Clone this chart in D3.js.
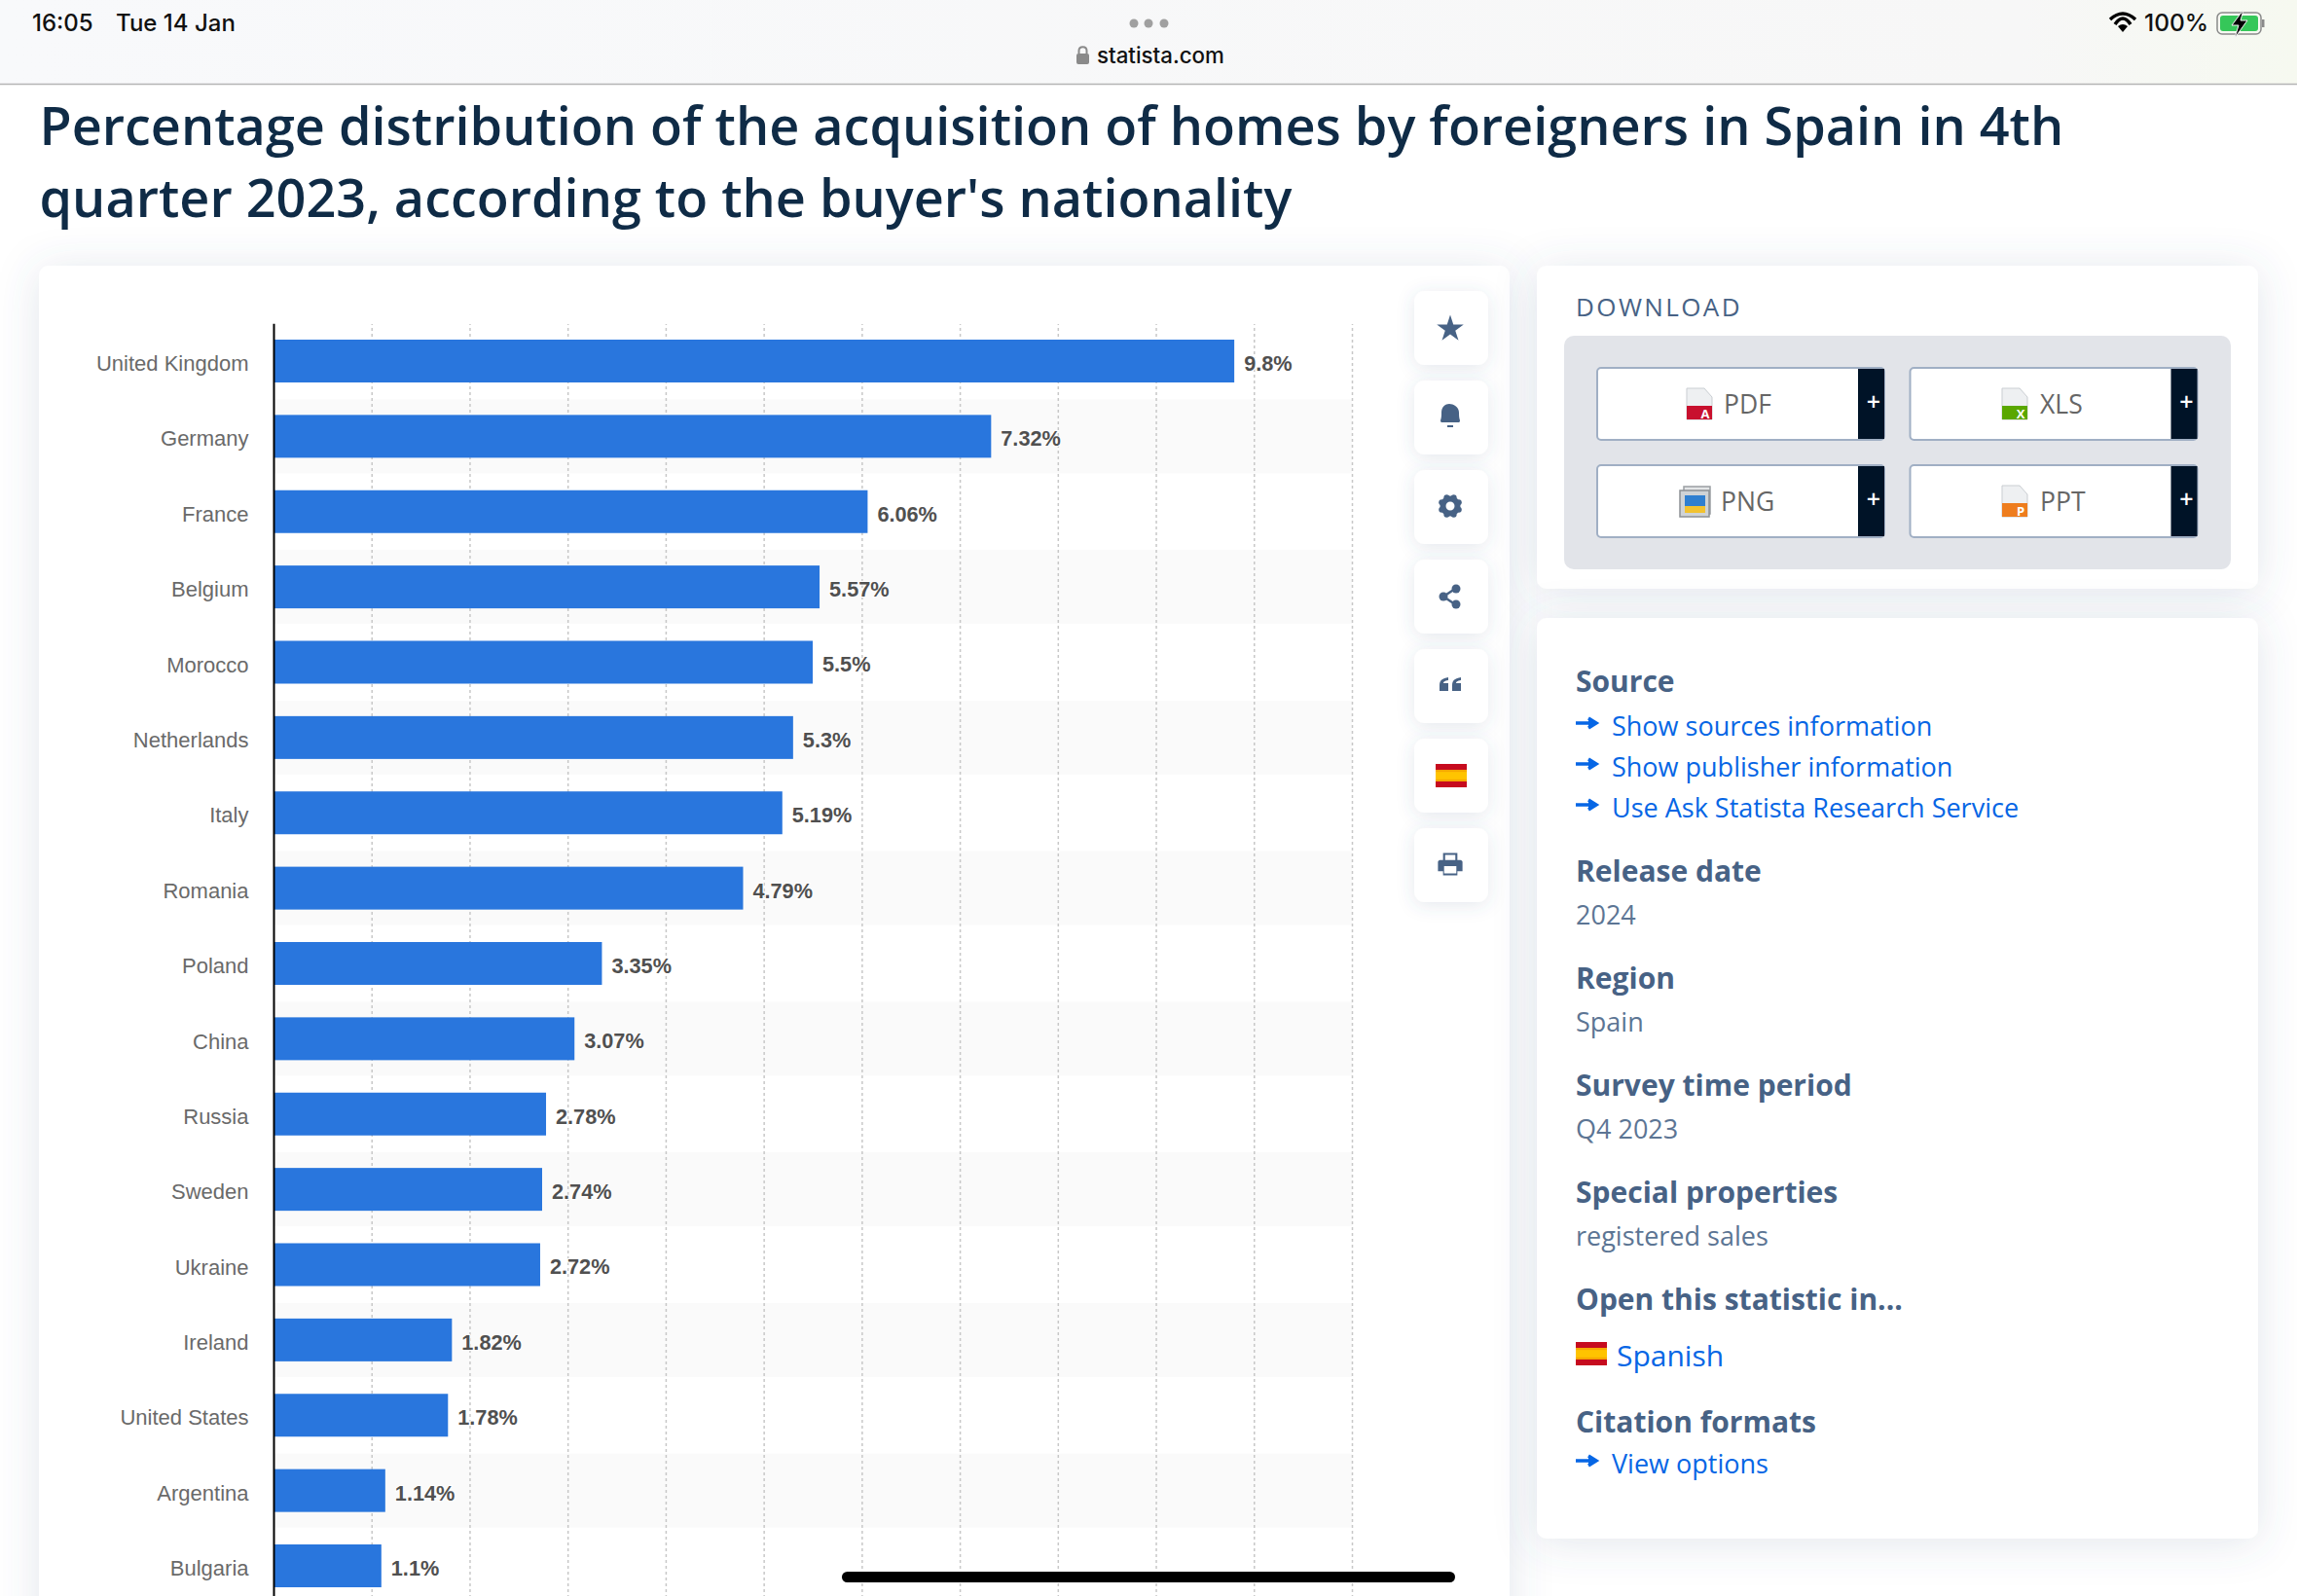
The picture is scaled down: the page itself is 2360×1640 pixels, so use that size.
<!DOCTYPE html>
<html>
<head>
<meta charset="utf-8">
<script src="https://cdn.jsdelivr.net/npm/d3@7"></script>
<style>
  html, body { margin: 0; padding: 0; background: #fff; overflow: hidden; }
  svg { display: block; }
  text { font-family: "Open Sans", sans-serif; }
</style>
</head>
<body>
<div id="page"></div>
<script>
const countries = ["United Kingdom", "Germany", "France", "Belgium", "Morocco", "Netherlands", "Italy", "Romania", "Poland", "China", "Russia", "Sweden", "Ukraine", "Ireland", "United States", "Argentina", "Bulgaria"];
const shares = [9.8, 7.32, 6.06, 5.57, 5.5, 5.3, 5.19, 4.79, 3.35, 3.07, 2.78, 2.74, 2.72, 1.82, 1.78, 1.14, 1.1];
const titleLines = ["Percentage distribution of the acquisition of homes by foreigners in Spain in 4th", "quarter 2023, according to the buyer's nationality"];
const downloads = ["PDF", "XLS", "PNG", "PPT"];
const downloadColors = ["#c8102e", "#5aa700", "#2f7fd0", "#ee7d1e"];
const downloadMarks = ["A", "X", "", "P"];
const sourceLinks = ["Show sources information", "Show publisher information", "Use Ask Statista Research Service"];
const metaHeads = ["Release date", "Region", "Survey time period", "Special properties"];
const metaValues = ["2024", "Spain", "Q4 2023", "registered sales"];

const W = 2360, H = 1640;
const svg = d3.select("#page").append("svg").attr("width", W).attr("height", H);
const blue = "#2976dd", slate = "#476285", linkBlue = "#0666e5";

const defs = svg.append("defs");
const shadow = defs.append("filter").attr("id", "card").attr("x", "-15%").attr("y", "-15%").attr("width", "130%").attr("height", "130%");
shadow.append("feDropShadow").attr("dx", 0).attr("dy", 4).attr("stdDeviation", 22).attr("flood-color", "#4a5f85").attr("flood-opacity", 0.16);
const shadowSmall = defs.append("filter").attr("id", "btn").attr("x", "-50%").attr("y", "-50%").attr("width", "200%").attr("height", "200%");
shadowSmall.append("feDropShadow").attr("dx", 0).attr("dy", 3).attr("stdDeviation", 9).attr("flood-color", "#4a5f85").attr("flood-opacity", 0.14);
const topGrad = defs.append("linearGradient").attr("id", "topbar");
topGrad.append("stop").attr("offset", "0%").attr("stop-color", "#f8f9fb");
topGrad.append("stop").attr("offset", "88%").attr("stop-color", "#f7f7f7");
topGrad.append("stop").attr("offset", "100%").attr("stop-color", "#f6f9f0");

// page title
const title = svg.append("g");
title.selectAll("text").data(titleLines).join("text")
  .attr("x", 40.5).attr("y", (d, i) => 149 + i * 74)
  .attr("font-size", 53.97).attr("font-weight", 600).attr("fill", "#0f2b46")
  .text(d => d);

// cards
const cards = svg.append("g");
[[40, 273, 1511, 1500], [1579, 273, 741, 332], [1579, 635, 741, 946]].forEach(c => {
  cards.append("rect").attr("x", c[0]).attr("y", c[1]).attr("width", c[2]).attr("height", c[3])
    .attr("rx", 10).attr("fill", "#fff").attr("filter", "url(#card)");
});

// chart
const x = d3.scaleLinear().domain([0, 11]).range([281, 1389]);
const y = d3.scaleBand().domain(countries).range([332.3, 1647.7]).paddingInner(0.4313).paddingOuter(0.2156);
const chart = svg.append("g");

chart.append("g").selectAll("rect").data(countries.filter((d, i) => i % 2 === 1)).join("rect")
  .attr("x", x(0)).attr("width", x(11) - x(0))
  .attr("y", d => y(d) + y.bandwidth() / 2 - 38).attr("height", 76)
  .attr("fill", "#fafafa");

const grid = chart.append("g").attr("transform", "translate(0,1648)")
  .call(d3.axisBottom(x).ticks(11).tickSize(-(1648 - 333)).tickFormat(""));
grid.select(".domain").remove();
grid.selectAll(".tick line").attr("stroke", "#c8c8c8").attr("stroke-width", 1.5).attr("stroke-dasharray", "3,3");
grid.selectAll(".tick").filter(d => d === 0).remove();

chart.append("g").selectAll("rect").data(countries).join("rect")
  .attr("x", x(0)).attr("y", d => y(d))
  .attr("width", (d, i) => x(shares[i]) - x(0)).attr("height", y.bandwidth())
  .attr("fill", blue);

const yAxis = chart.append("g").attr("transform", "translate(281,0)")
  .call(d3.axisLeft(y).tickSize(0).tickPadding(25.5).tickSizeOuter(0));
yAxis.select(".domain").attr("stroke", "#000").attr("stroke-width", 2);
yAxis.selectAll("text").attr("dy", "0.46em").style("font-family", "'Liberation Sans', sans-serif").attr("font-size", 22).attr("fill", "#6a6a6a");

chart.append("g").selectAll("text").data(countries).join("text")
  .attr("x", (d, i) => x(shares[i]) + 10).attr("y", d => y(d) + y.bandwidth() / 2)
  .attr("dy", "0.46em")
  .style("font-family", "'Liberation Sans', sans-serif")
  .attr("font-size", 21.7).attr("font-weight", 700).attr("fill", "#505050")
  .attr("stroke", "#fff").attr("stroke-width", 2).attr("paint-order", "stroke")
  .text((d, i) => shares[i] + "%");

// side buttons
const side = svg.append("g");
const sideIcons = ["star", "bell", "gear", "share", "quote", "flag", "print"];
const icon = side.selectAll("g").data(sideIcons).join("g")
  .attr("transform", (d, i) => `translate(1491,${337 + i * 92})`);
icon.append("rect").attr("x", -38).attr("y", -38).attr("width", 76).attr("height", 76)
  .attr("rx", 11).attr("fill", "#fff").attr("filter", "url(#btn)");

function flag(g, px, py, w, h) {
  g.append("rect").attr("x", px).attr("y", py).attr("width", w).attr("height", h).attr("fill", "#c60b1e");
  g.append("rect").attr("x", px).attr("y", py + h * 0.25).attr("width", w).attr("height", h * 0.5).attr("fill", "#f6a800");
  g.append("rect").attr("x", px).attr("y", py + h * 0.34).attr("width", w).attr("height", h * 0.32).attr("fill", "#ffc400");
}

icon.each(function (name) {
  const g = d3.select(this).append("g").attr("fill", slate);
  if (name === "star") {
    g.append("path").attr("transform", "translate(-1,1)").attr("d", d3.symbol(d3.symbolStar, 235)());
  } else if (name === "bell") {
    g.append("path").attr("d", "M-10,5 C-9,2 -9,0 -9,-3 C-9,-9 -5,-12 -1,-12 C3,-12 9,-9 9,-3 C9,0 9,2 10,5 C10,7 9,7 8,7 L-8,7 C-9,7 -10,7 -10,5 Z").attr("transform", "translate(-1,-2)");
    g.append("rect").attr("x", -4).attr("y", 8).attr("width", 6).attr("height", 2);
  } else if (name === "gear") {
    g.append("circle").attr("cx", -1).attr("cy", -1).attr("r", 7.5).attr("fill", "none").attr("stroke", slate).attr("stroke-width", 6);
    d3.range(8).forEach(k => {
      g.append("circle").attr("r", 3)
        .attr("cx", -1 + 9.5 * Math.cos(k * Math.PI / 4 + Math.PI / 8))
        .attr("cy", -1 + 9.5 * Math.sin(k * Math.PI / 4 + Math.PI / 8));
    });
  } else if (name === "share") {
    g.append("path").attr("d", "M-8,0 L4,-8 M-8,0 L4,8").attr("stroke", slate).attr("stroke-width", 2.5);
    [[-8, 0], [5, -8], [5, 8]].forEach(p => g.append("ellipse").attr("cx", p[0]).attr("cy", p[1]).attr("rx", 4.5).attr("ry", 4.5));
  } else if (name === "quote") {
    [-11, 2].forEach(o => {
      g.append("path").attr("transform", `translate(${o - 1},0)`).attr("d", "M0,-1 C0,-6 3,-8 9,-9 L9,-6 C5,-5.5 4,-4 4,-3 L9,-3 L9,5 L0,5 Z");
    });
  } else if (name === "flag") {
    flag(g, -16, -12, 32, 24);
  } else {
    g.append("path").attr("fill-rule", "evenodd").attr("d", "M-7,-12 L7,-12 L7,-5 L10,-5 C11,-5 12,-4 12,-3 L12,6 L7,6 L7,10 L-7,10 L-7,6 L-12,6 L-12,-3 C-12,-4 -11,-5 -10,-5 L-7,-5 Z M-5,-10 L-5,-5 L5,-5 L5,-10 Z M-6,1 L-6,8 L6,8 L6,1 Z").attr("transform", "translate(-1,0) scale(1.05)");
  }
});

// download card
const dl = svg.append("g");
dl.append("text").attr("x", 1619).attr("y", 325).attr("font-size", 26).attr("font-weight", 500).attr("letter-spacing", 2.4).attr("fill", slate).text("DOWNLOAD");
dl.append("rect").attr("x", 1607).attr("y", 345).attr("width", 685).attr("height", 240).attr("rx", 10).attr("fill", "#e2e4e9");
const dlX = [1640, 1961.5], dlY = [377, 477], dlText = [1771, 2096, 1768, 2096];
const btn = dl.selectAll("g").data(downloads).join("g")
  .attr("transform", (d, i) => `translate(${dlX[i % 2]},${dlY[Math.floor(i / 2)]})`);
btn.append("rect").attr("x", 1).attr("y", 1).attr("width", 295).attr("height", 74).attr("rx", 4)
  .attr("fill", "#fff").attr("stroke", "#a0afc4").attr("stroke-width", 2);
btn.append("rect").attr("x", 269).attr("y", 2).attr("width", 27).attr("height", 72).attr("fill", "#001327");
btn.append("text").attr("x", 285).attr("y", 45).attr("text-anchor", "middle").attr("font-size", 25).attr("font-weight", 600).attr("fill", "#fff").text("+");
btn.append("text").attr("x", (d, i) => dlText[i] - dlX[i % 2]).attr("y", 48).attr("font-size", 26.5).attr("fill", "#666").text(d => d);
btn.each(function (d, i) {
  const g = d3.select(this), ox = (i % 2 ? 2057 : 1733) - dlX[i % 2];
  if (d === "PNG") {
    g.append("rect").attr("x", 90).attr("y", 23).attr("width", 27).attr("height", 28).attr("fill", "#e4e6e8").attr("stroke", "#9a9ea2").attr("stroke-width", 1.5);
    g.append("rect").attr("x", 86).attr("y", 27).attr("width", 30).attr("height", 27).attr("fill", "#cfd3d6").attr("stroke", "#8c9094").attr("stroke-width", 1.5);
    g.append("rect").attr("x", 91).attr("y", 32).attr("width", 21).attr("height", 11).attr("fill", "#2f7fd0");
    g.append("rect").attr("x", 91).attr("y", 43).attr("width", 21).attr("height", 7).attr("fill", "#f2c230");
  } else {
    g.append("path").attr("d", `M${ox},22 L${ox + 18},22 L${ox + 26},31 L${ox + 26},54 L${ox},54 Z`)
      .attr("fill", "#eef0f2").attr("stroke", "#c9cdd1");
    g.append("rect").attr("x", ox).attr("y", 40).attr("width", 26).attr("height", 14).attr("fill", downloadColors[i]);
    g.append("text").attr("x", ox + 19).attr("y", 53).attr("text-anchor", "middle").attr("font-size", 13).attr("font-weight", 700).attr("fill", "#fff").text(downloadMarks[i]);
  }
});

// info card
const info = svg.append("g");
const head = (t, py) => info.append("text").attr("x", 1619).attr("y", py).attr("font-size", 30).attr("font-weight", 700).attr("fill", slate).text(t);
const body = (t, py) => info.append("text").attr("x", 1619).attr("y", py).attr("font-size", 27).attr("fill", "#5c7594").text(t);
const link = (t, py) => {
  info.append("path").attr("d", `M1619,${py - 13} L1636,${py - 13} M1632,${py - 18} L1640,${py - 13} L1632,${py - 8}`).attr("stroke", linkBlue).attr("stroke-width", 3.5).attr("fill", linkBlue);
  info.append("text").attr("x", 1656).attr("y", py).attr("font-size", 27).attr("fill", linkBlue).text(t);
};
head("Source", 711);
sourceLinks.forEach((t, i) => link(t, 756 + i * 42));
metaHeads.forEach((t, i) => {
  head(t, 905.5 + i * 110);
  body(metaValues[i], 949.5 + i * 110);
});
head("Open this statistic in...", 1345.5);
flag(info, 1619, 1379, 32, 24);
info.append("text").attr("x", 1661).attr("y", 1404).attr("font-size", 30).attr("fill", linkBlue).text("Spanish");
head("Citation formats", 1471.5);
link("View options", 1514);

// browser bar
const bar = svg.append("g");
bar.append("rect").attr("width", W).attr("height", 86).attr("fill", "url(#topbar)");
bar.append("line").attr("x1", 0).attr("x2", W).attr("y1", 86.5).attr("y2", 86.5).attr("stroke", "#b5b5b5").attr("stroke-width", 1.5);
const barText = (t, px, py, size) => bar.append("text").attr("x", px).attr("y", py)
  .style("font-family", "Inter, sans-serif").attr("font-size", size).attr("font-weight", 500).attr("fill", "#111").text(t);
barText("16:05", 33, 32, 24);
barText("Tue 14 Jan", 119, 32, 24);
barText("statista.com", 1127, 65, 22.3);
barText("100%", 2203, 32, 24.5);
[1165, 1180, 1196].forEach(c => bar.append("circle").attr("cx", c).attr("cy", 24).attr("r", 4.5).attr("fill", "#a0a0a0"));
bar.append("rect").attr("x", 1106).attr("y", 55).attr("width", 13).attr("height", 11).attr("rx", 2).attr("fill", "#8a8a8a");
bar.append("path").attr("d", "M1108.5,55 L1108.5,52 C1108.5,47 1116.5,47 1116.5,52 L1116.5,55").attr("stroke", "#8a8a8a").attr("stroke-width", 2).attr("fill", "none");
[[2168, 14, 2194], [2173, 19, 2189]].forEach(a => {
  bar.append("path").attr("d", `M${a[0]},${a[1] + 6} Q2181,${a[1] - 6} ${a[2]},${a[1] + 6}`).attr("stroke", "#000").attr("stroke-width", 3.5).attr("fill", "none");
});
bar.append("path").attr("d", "M2176,27 L2181,33 L2186,27 Q2181,23 2176,27 Z").attr("fill", "#000");
bar.append("rect").attr("x", 2278).attr("y", 13).attr("width", 45).attr("height", 22).attr("rx", 5).attr("fill", "none").attr("stroke", "#8a8a8a").attr("stroke-width", 1.5);
bar.append("rect").attr("x", 2281).attr("y", 16).attr("width", 39).attr("height", 16).attr("rx", 3).attr("fill", "#35c759");
bar.append("rect").attr("x", 2324).attr("y", 20).attr("width", 2.5).attr("height", 8).attr("fill", "#8a8a8a");
bar.append("path").attr("d", "M2305,10 L2293,26 L2300,26 L2296,39 L2309,21 L2302,21 Z").attr("fill", "#000").attr("stroke", "#f7f7f7");

// home indicator
svg.append("rect").attr("x", 865).attr("y", 1615).attr("width", 630).attr("height", 11).attr("rx", 5.5).attr("fill", "#000");
</script>
</body>
</html>
